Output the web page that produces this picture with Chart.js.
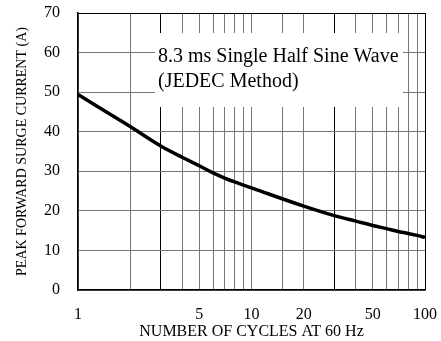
<!DOCTYPE html>
<html>
<head>
<meta charset="utf-8">
<script src="https://cdn.jsdelivr.net/npm/chart.js@4"></script>
<style>
  html, body { margin: 0; padding: 0; background: #fff; }
  canvas { display: block; }
</style>
</head>
<body>
<canvas id="c" width="441" height="341"></canvas>
<script>
// number of cycles at 60 Hz
const cycles = [1, 2, 3, 4, 5, 6, 7, 8, 9, 10, 20, 30, 40, 50, 60, 70, 80, 90, 100];
// peak forward surge current (A)
const current = [49.4, 41.3, 36.4, 33.5, 31.4, 29.6, 28.3, 27.3, 26.5, 25.8, 21.2, 18.8, 17.4, 16.3, 15.5, 14.8, 14.3, 13.8, 13.3];
const xTickLabels = [1, 5, 10, 20, 50, 100];
const noteLines = ['8.3 ms Single Half Sine Wave', '(JEDEC Method)'];

const serif = '"Liberation Serif", "DejaVu Serif", serif';

const noteBox = {
  id: 'noteBox',
  beforeDatasetsDraw(chart) {
    const ctx = chart.ctx;
    ctx.save();
    ctx.fillStyle = '#fff';
    ctx.fillRect(155, 33, 248, 74);
    ctx.fillStyle = '#000';
    ctx.font = '20px ' + serif;
    ctx.textBaseline = 'middle';
    ctx.textAlign = 'left';
    ctx.fillText(noteLines[0], 158, 57);
    ctx.fillText(noteLines[1], 158, 82);
    ctx.restore();
  }
};

new Chart(document.getElementById('c').getContext('2d'), {
  type: 'line',
  data: {
    datasets: [{
      data: cycles.map((c, i) => ({ x: c, y: current[i] })),
      borderColor: '#000',
      borderWidth: 3.5,
      pointRadius: 0,
      cubicInterpolationMode: 'monotone',
      fill: false,
    }],
  },
  options: {
    responsive: false,
    animation: false,
    layout: { padding: 0 },
    plugins: { legend: { display: false }, tooltip: { enabled: false } },
    scales: {
      x: {
        type: 'logarithmic',
        min: 1,
        max: 100,
        afterFit: s => { s.height = 51; s.paddingLeft = 0; s.paddingRight = 16; },
        grid: {
          drawTicks: false,
          color: ctx => {
            const v = Math.round(ctx.tick ? ctx.tick.value : 0);
            return (v === 3 || v === 30 || v === 100) ? '#000' : '#777';
          },
        },
        border: { color: '#000', width: 1.5 },
        ticks: {
          autoSkip: false,
          maxRotation: 0,
          padding: 15,
          color: '#000',
          font: { family: serif, size: 16 },
          callback: v => xTickLabels.includes(Math.round(v)) ? String(Math.round(v)) : '',
        },
        title: {
          display: true,
          text: 'NUMBER OF CYCLES AT 60 Hz',
          color: '#000',
          font: { family: serif, size: 16 },
          padding: { top: 0, bottom: 0 },
        },
      },
      y: {
        min: 0,
        max: 70,
        afterFit: s => { s.width = 78; s.paddingTop = 13; s.paddingBottom = 0; },
        grid: {
          drawTicks: false,
          color: ctx => (ctx.tick && ctx.tick.value === 70) ? '#000' : '#777',
        },
        border: { color: '#000', width: 1.5 },
        ticks: {
          stepSize: 10,
          padding: 18,
          color: '#000',
          font: { family: serif, size: 16 },
        },
        title: {
          display: true,
          text: 'PEAK FORWARD SURGE CURRENT (A)',
          color: '#000',
          font: { family: serif, size: 14 },
          padding: { top: 14, bottom: 0 },
        },
      },
    },
  },
  plugins: [noteBox],
});
</script>
</body>
</html>
